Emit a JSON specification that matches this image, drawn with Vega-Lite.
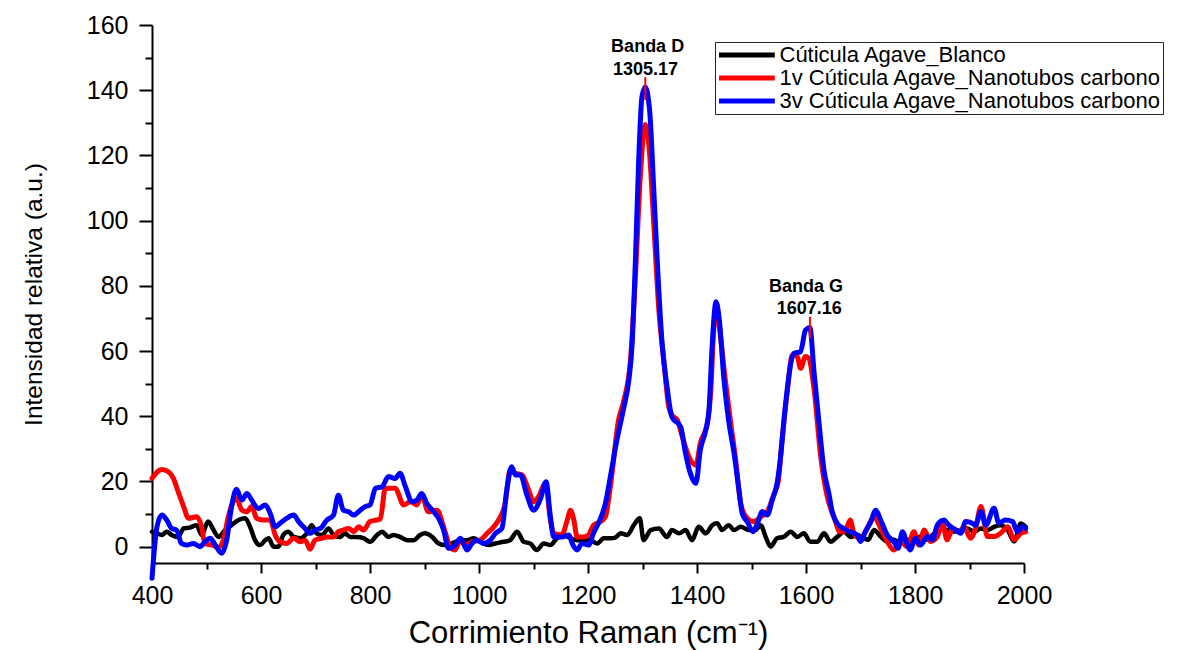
{
  "$schema": "https://vega.github.io/schema/vega-lite/v6.json",
  "width": 872,
  "height": 538,
  "autosize": "none",
  "padding": {"left": 152, "top": 25, "right": 157, "bottom": 87},
  "background": "white",
  "config": {
    "view": {"stroke": null},
    "font": "Liberation Sans",
    "axis": {
      "grid": false,
      "domainColor": "black",
      "tickColor": "black",
      "labelColor": "black",
      "titleColor": "black",
      "labelFont": "Liberation Sans",
      "titleFont": "Liberation Sans",
      "titleFontWeight": "normal",
      "labelFlush": false,
      "labelOverlap": false
    }
  },
  "datasets": {
    "blanco": [
      {"x": 400, "y": 4.6}, {"x": 409, "y": 4.1}, {"x": 418, "y": 3.6}, {"x": 427, "y": 4.6}, {"x": 436, "y": 3.6},
      {"x": 448, "y": 3.0}, {"x": 458, "y": 5.6}, {"x": 470, "y": 5.9}, {"x": 482, "y": 6.6}, {"x": 491, "y": 3.6},
      {"x": 503, "y": 7.7}, {"x": 513, "y": 5.1}, {"x": 522, "y": 3.0}, {"x": 534, "y": 5.1}, {"x": 546, "y": 6.6},
      {"x": 559, "y": 8.2}, {"x": 571, "y": 8.7}, {"x": 580, "y": 6.1}, {"x": 589, "y": 2.0}, {"x": 598, "y": 0.5},
      {"x": 608, "y": 2.0}, {"x": 614, "y": 2.6}, {"x": 623, "y": 0.0}, {"x": 632, "y": 0.0}, {"x": 641, "y": 3.6},
      {"x": 650, "y": 4.6}, {"x": 660, "y": 3.0}, {"x": 672, "y": 2.6}, {"x": 684, "y": 4.1}, {"x": 693, "y": 6.6},
      {"x": 702, "y": 4.1}, {"x": 712, "y": 3.6}, {"x": 724, "y": 5.6}, {"x": 733, "y": 3.6}, {"x": 745, "y": 3.0},
      {"x": 754, "y": 4.1}, {"x": 764, "y": 3.0}, {"x": 776, "y": 3.0}, {"x": 788, "y": 2.6}, {"x": 800, "y": 1.5},
      {"x": 813, "y": 3.6}, {"x": 822, "y": 4.6}, {"x": 834, "y": 3.0}, {"x": 843, "y": 3.6}, {"x": 855, "y": 3.0},
      {"x": 868, "y": 2.0}, {"x": 880, "y": 2.0}, {"x": 892, "y": 3.6}, {"x": 901, "y": 4.1}, {"x": 914, "y": 3.0},
      {"x": 926, "y": 1.0}, {"x": 938, "y": 0.5}, {"x": 950, "y": 1.0}, {"x": 966, "y": 2.0}, {"x": 978, "y": 2.0},
      {"x": 990, "y": 2.6}, {"x": 1002, "y": 1.5}, {"x": 1018, "y": 0.5}, {"x": 1030, "y": 1.0}, {"x": 1045, "y": 1.5},
      {"x": 1057, "y": 2.0}, {"x": 1070, "y": 4.6}, {"x": 1082, "y": 1.5}, {"x": 1094, "y": 1.0}, {"x": 1106, "y": -1.0},
      {"x": 1119, "y": 1.0}, {"x": 1131, "y": 0.5}, {"x": 1143, "y": 2.6}, {"x": 1155, "y": 3.6}, {"x": 1168, "y": 2.6},
      {"x": 1180, "y": 2.0}, {"x": 1192, "y": 2.0}, {"x": 1204, "y": 2.0}, {"x": 1217, "y": 1.0}, {"x": 1229, "y": 2.6},
      {"x": 1241, "y": 2.6}, {"x": 1250, "y": 2.8}, {"x": 1260, "y": 4.1}, {"x": 1272, "y": 3.6}, {"x": 1284, "y": 6.6},
      {"x": 1295, "y": 8.7}, {"x": 1302, "y": 2.0}, {"x": 1315, "y": 5.1}, {"x": 1330, "y": 5.6}, {"x": 1345, "y": 3.0},
      {"x": 1354, "y": 5.1}, {"x": 1367, "y": 4.1}, {"x": 1379, "y": 5.1}, {"x": 1391, "y": 2.0}, {"x": 1403, "y": 6.1},
      {"x": 1416, "y": 4.1}, {"x": 1428, "y": 6.6}, {"x": 1437, "y": 7.2}, {"x": 1446, "y": 5.1}, {"x": 1458, "y": 6.6},
      {"x": 1468, "y": 5.1}, {"x": 1480, "y": 6.1}, {"x": 1495, "y": 5.1}, {"x": 1507, "y": 5.1}, {"x": 1517, "y": 6.6},
      {"x": 1526, "y": 3.0}, {"x": 1535, "y": 0.0}, {"x": 1547, "y": 2.6}, {"x": 1559, "y": 3.0}, {"x": 1572, "y": 4.6},
      {"x": 1584, "y": 3.0}, {"x": 1596, "y": 4.1}, {"x": 1608, "y": 1.5}, {"x": 1621, "y": 1.5}, {"x": 1633, "y": 4.1},
      {"x": 1645, "y": 1.5}, {"x": 1657, "y": 3.0}, {"x": 1670, "y": 4.6}, {"x": 1682, "y": 3.0}, {"x": 1694, "y": 3.6},
      {"x": 1706, "y": 2.6}, {"x": 1714, "y": 2.1}, {"x": 1725, "y": 5.1}, {"x": 1737, "y": 3.1}, {"x": 1749, "y": 1.6},
      {"x": 1761, "y": 2.1}, {"x": 1774, "y": 1.0}, {"x": 1786, "y": 2.1}, {"x": 1798, "y": 1.6}, {"x": 1810, "y": 3.1},
      {"x": 1823, "y": 2.1}, {"x": 1835, "y": 4.1}, {"x": 1847, "y": 5.6}, {"x": 1859, "y": 5.1}, {"x": 1872, "y": 4.6},
      {"x": 1884, "y": 5.1}, {"x": 1896, "y": 5.6}, {"x": 1908, "y": 4.6}, {"x": 1921, "y": 5.6}, {"x": 1933, "y": 5.1},
      {"x": 1945, "y": 6.1}, {"x": 1957, "y": 6.6}, {"x": 1970, "y": 5.1}, {"x": 1982, "y": 1.6}, {"x": 1994, "y": 7.1},
      {"x": 2003, "y": 6.1}
    ],
    "v1": [
      {"x": 400, "y": 21.0}, {"x": 418, "y": 23.7}, {"x": 430, "y": 23.0}, {"x": 439, "y": 21.0}, {"x": 448, "y": 16.9},
      {"x": 458, "y": 12.3}, {"x": 467, "y": 8.7}, {"x": 482, "y": 9.2}, {"x": 491, "y": 6.1}, {"x": 497, "y": 1.0},
      {"x": 510, "y": 0.5}, {"x": 522, "y": -0.2}, {"x": 531, "y": 2.0}, {"x": 540, "y": 9.2}, {"x": 549, "y": 13.8},
      {"x": 555, "y": 14.8}, {"x": 565, "y": 11.2}, {"x": 574, "y": 10.7}, {"x": 583, "y": 12.3}, {"x": 592, "y": 8.7},
      {"x": 604, "y": 8.2}, {"x": 617, "y": 8.2}, {"x": 626, "y": 3.6}, {"x": 635, "y": 1.5}, {"x": 647, "y": 1.0},
      {"x": 660, "y": 2.6}, {"x": 672, "y": 1.5}, {"x": 681, "y": 2.0}, {"x": 690, "y": -0.8}, {"x": 699, "y": 2.0},
      {"x": 712, "y": 2.6}, {"x": 721, "y": 3.0}, {"x": 733, "y": 3.0}, {"x": 742, "y": 4.6}, {"x": 751, "y": 5.1},
      {"x": 761, "y": 5.6}, {"x": 770, "y": 4.6}, {"x": 779, "y": 6.1}, {"x": 788, "y": 5.1}, {"x": 800, "y": 7.7},
      {"x": 812, "y": 8.2}, {"x": 819, "y": 8.5}, {"x": 828, "y": 17.9}, {"x": 846, "y": 17.9}, {"x": 862, "y": 12.8},
      {"x": 874, "y": 13.8}, {"x": 886, "y": 12.8}, {"x": 895, "y": 15.8}, {"x": 907, "y": 10.7}, {"x": 923, "y": 11.2},
      {"x": 935, "y": 6.1}, {"x": 947, "y": 0.0}, {"x": 956, "y": -1.0}, {"x": 966, "y": 2.0}, {"x": 975, "y": 0.5},
      {"x": 987, "y": 1.5}, {"x": 1002, "y": 2.0}, {"x": 1015, "y": 4.1}, {"x": 1027, "y": 6.1}, {"x": 1036, "y": 8.2},
      {"x": 1048, "y": 13.3}, {"x": 1057, "y": 23.5}, {"x": 1067, "y": 22.5}, {"x": 1079, "y": 22.0}, {"x": 1091, "y": 17.4},
      {"x": 1100, "y": 13.8}, {"x": 1109, "y": 15.3}, {"x": 1122, "y": 19.4}, {"x": 1131, "y": 8.2}, {"x": 1137, "y": 4.1},
      {"x": 1152, "y": 3.6}, {"x": 1162, "y": 8.2}, {"x": 1168, "y": 11.2}, {"x": 1174, "y": 8.2}, {"x": 1180, "y": 3.0},
      {"x": 1192, "y": 3.0}, {"x": 1201, "y": 3.6}, {"x": 1210, "y": 6.6}, {"x": 1223, "y": 7.7}, {"x": 1232, "y": 9.2},
      {"x": 1241, "y": 18.4}, {"x": 1256, "y": 38.8}, {"x": 1266, "y": 45.0}, {"x": 1278, "y": 57.3}, {"x": 1287, "y": 82.8},
      {"x": 1296, "y": 113.5}, {"x": 1305, "y": 129.5}, {"x": 1312, "y": 122.6}, {"x": 1321, "y": 98.1}, {"x": 1330, "y": 72.5},
      {"x": 1339, "y": 57.3}, {"x": 1348, "y": 43.0}, {"x": 1354, "y": 40.4}, {"x": 1364, "y": 38.8}, {"x": 1373, "y": 33.7},
      {"x": 1388, "y": 26.6}, {"x": 1398, "y": 25.0}, {"x": 1406, "y": 31.7}, {"x": 1419, "y": 37.8}, {"x": 1425, "y": 47.0},
      {"x": 1431, "y": 67.4}, {"x": 1435, "y": 73.6}, {"x": 1441, "y": 67.4}, {"x": 1452, "y": 51.1}, {"x": 1462, "y": 37.8},
      {"x": 1471, "y": 26.6}, {"x": 1480, "y": 13.3}, {"x": 1492, "y": 8.7}, {"x": 1504, "y": 7.7}, {"x": 1517, "y": 9.2},
      {"x": 1529, "y": 10.8}, {"x": 1541, "y": 16.0}, {"x": 1549, "y": 20.0}, {"x": 1556, "y": 32.7}, {"x": 1566, "y": 48.0},
      {"x": 1575, "y": 58.8}, {"x": 1584, "y": 58.3}, {"x": 1590, "y": 54.7}, {"x": 1599, "y": 58.3}, {"x": 1605, "y": 57.8},
      {"x": 1615, "y": 48.0}, {"x": 1627, "y": 27.6}, {"x": 1639, "y": 15.3}, {"x": 1651, "y": 9.2}, {"x": 1663, "y": 4.5},
      {"x": 1673, "y": 5.1}, {"x": 1681, "y": 8.2}, {"x": 1688, "y": 4.1}, {"x": 1700, "y": 2.5}, {"x": 1712, "y": 5.6},
      {"x": 1725, "y": 9.2}, {"x": 1737, "y": 5.6}, {"x": 1749, "y": 1.6}, {"x": 1761, "y": -1.0}, {"x": 1774, "y": 1.6},
      {"x": 1786, "y": 0.0}, {"x": 1798, "y": 4.6}, {"x": 1807, "y": 0.5}, {"x": 1817, "y": 5.1}, {"x": 1828, "y": 1.6},
      {"x": 1841, "y": 3.1}, {"x": 1850, "y": 7.2}, {"x": 1859, "y": 2.1}, {"x": 1869, "y": 5.6}, {"x": 1881, "y": 4.6},
      {"x": 1890, "y": 6.1}, {"x": 1902, "y": 2.6}, {"x": 1911, "y": 5.6}, {"x": 1921, "y": 12.3}, {"x": 1933, "y": 3.1},
      {"x": 1945, "y": 3.1}, {"x": 1957, "y": 4.1}, {"x": 1970, "y": 6.1}, {"x": 1982, "y": 2.1}, {"x": 1994, "y": 4.1},
      {"x": 2003, "y": 4.6}
    ],
    "v3": [
      {"x": 400, "y": -9.7}, {"x": 409, "y": 6.0}, {"x": 418, "y": 9.7}, {"x": 427, "y": 8.2}, {"x": 436, "y": 5.6},
      {"x": 445, "y": 5.1}, {"x": 454, "y": 1.0}, {"x": 464, "y": 0.5}, {"x": 476, "y": 1.0}, {"x": 488, "y": 0.0},
      {"x": 497, "y": 1.5}, {"x": 507, "y": 2.6}, {"x": 516, "y": 0.5}, {"x": 528, "y": -2.0}, {"x": 537, "y": 2.0},
      {"x": 546, "y": 12.3}, {"x": 555, "y": 17.6}, {"x": 565, "y": 14.3}, {"x": 574, "y": 16.3}, {"x": 583, "y": 14.3},
      {"x": 595, "y": 11.7}, {"x": 608, "y": 12.8}, {"x": 617, "y": 10.2}, {"x": 626, "y": 6.1}, {"x": 635, "y": 7.2},
      {"x": 647, "y": 8.7}, {"x": 660, "y": 9.7}, {"x": 669, "y": 7.7}, {"x": 681, "y": 5.6}, {"x": 690, "y": 4.1},
      {"x": 699, "y": 5.1}, {"x": 709, "y": 5.6}, {"x": 721, "y": 8.2}, {"x": 733, "y": 9.7}, {"x": 742, "y": 15.8},
      {"x": 751, "y": 11.2}, {"x": 761, "y": 10.7}, {"x": 770, "y": 9.7}, {"x": 782, "y": 11.2}, {"x": 791, "y": 12.3},
      {"x": 800, "y": 12.8}, {"x": 810, "y": 17.9}, {"x": 822, "y": 18.4}, {"x": 834, "y": 21.5}, {"x": 846, "y": 20.9},
      {"x": 855, "y": 22.5}, {"x": 865, "y": 18.4}, {"x": 877, "y": 13.8}, {"x": 886, "y": 14.3}, {"x": 895, "y": 16.3},
      {"x": 904, "y": 13.3}, {"x": 917, "y": 10.7}, {"x": 926, "y": 8.7}, {"x": 935, "y": 5.1}, {"x": 944, "y": -0.5},
      {"x": 956, "y": 0.5}, {"x": 966, "y": 2.6}, {"x": 978, "y": -1.0}, {"x": 987, "y": 1.0}, {"x": 996, "y": 2.0},
      {"x": 1008, "y": 1.0}, {"x": 1021, "y": 2.0}, {"x": 1030, "y": 4.1}, {"x": 1042, "y": 5.6}, {"x": 1051, "y": 17.4},
      {"x": 1060, "y": 24.5}, {"x": 1067, "y": 22.0}, {"x": 1076, "y": 22.0}, {"x": 1088, "y": 15.8}, {"x": 1100, "y": 11.2},
      {"x": 1113, "y": 14.8}, {"x": 1123, "y": 19.9}, {"x": 1131, "y": 9.2}, {"x": 1137, "y": 3.0}, {"x": 1152, "y": 3.0},
      {"x": 1165, "y": 3.6}, {"x": 1171, "y": 1.0}, {"x": 1180, "y": -1.0}, {"x": 1189, "y": 1.0}, {"x": 1201, "y": 0.5},
      {"x": 1210, "y": 4.1}, {"x": 1223, "y": 8.7}, {"x": 1232, "y": 13.3}, {"x": 1241, "y": 21.4}, {"x": 1253, "y": 32.7},
      {"x": 1266, "y": 42.9}, {"x": 1275, "y": 51.1}, {"x": 1281, "y": 62.3}, {"x": 1287, "y": 87.9}, {"x": 1293, "y": 118.6},
      {"x": 1299, "y": 138.0}, {"x": 1305, "y": 141.0}, {"x": 1313, "y": 133.9}, {"x": 1321, "y": 108.3}, {"x": 1327, "y": 87.9},
      {"x": 1336, "y": 62.3}, {"x": 1345, "y": 49.0}, {"x": 1354, "y": 39.8}, {"x": 1370, "y": 36.8}, {"x": 1379, "y": 28.6},
      {"x": 1388, "y": 22.4}, {"x": 1398, "y": 19.4}, {"x": 1406, "y": 29.6}, {"x": 1416, "y": 35.7}, {"x": 1422, "y": 41.9},
      {"x": 1428, "y": 62.3}, {"x": 1435, "y": 75.1}, {"x": 1441, "y": 69.5}, {"x": 1449, "y": 52.1}, {"x": 1458, "y": 38.8},
      {"x": 1468, "y": 28.6}, {"x": 1477, "y": 17.4}, {"x": 1483, "y": 10.2}, {"x": 1492, "y": 7.7}, {"x": 1503, "y": 4.6},
      {"x": 1511, "y": 7.2}, {"x": 1520, "y": 10.8}, {"x": 1529, "y": 9.7}, {"x": 1538, "y": 14.3}, {"x": 1547, "y": 19.5},
      {"x": 1553, "y": 27.0}, {"x": 1562, "y": 42.9}, {"x": 1572, "y": 56.2}, {"x": 1578, "y": 59.3}, {"x": 1590, "y": 59.8},
      {"x": 1599, "y": 66.4}, {"x": 1607, "y": 67.2}, {"x": 1615, "y": 53.1}, {"x": 1624, "y": 37.8}, {"x": 1633, "y": 23.5},
      {"x": 1642, "y": 16.3}, {"x": 1648, "y": 10.8}, {"x": 1657, "y": 7.2}, {"x": 1670, "y": 5.5}, {"x": 1682, "y": 4.5},
      {"x": 1694, "y": 3.6}, {"x": 1700, "y": 1.6}, {"x": 1709, "y": 4.6}, {"x": 1719, "y": 7.7}, {"x": 1728, "y": 11.2},
      {"x": 1737, "y": 8.2}, {"x": 1749, "y": 3.6}, {"x": 1761, "y": 1.6}, {"x": 1769, "y": -0.5}, {"x": 1777, "y": 4.6},
      {"x": 1785, "y": 1.0}, {"x": 1791, "y": -1.0}, {"x": 1801, "y": 2.6}, {"x": 1810, "y": 0.5}, {"x": 1823, "y": 3.1},
      {"x": 1832, "y": 2.1}, {"x": 1841, "y": 6.6}, {"x": 1853, "y": 8.2}, {"x": 1862, "y": 6.6}, {"x": 1875, "y": 5.1},
      {"x": 1884, "y": 4.1}, {"x": 1893, "y": 7.7}, {"x": 1905, "y": 7.2}, {"x": 1911, "y": 6.6}, {"x": 1921, "y": 10.7},
      {"x": 1930, "y": 6.6}, {"x": 1945, "y": 11.8}, {"x": 1954, "y": 7.2}, {"x": 1966, "y": 8.2}, {"x": 1979, "y": 7.7},
      {"x": 1988, "y": 4.6}, {"x": 1997, "y": 6.1}, {"x": 2003, "y": 5.6}
    ],
    "picos": [
      {"x": 1305.17, "y": 137, "y2": 144},
      {"x": 1607.16, "y": 64, "y2": 70.5}
    ],
    "etiquetas": [
      {"texto": "Banda D", "x": 1309.4, "y": 151.7},
      {"texto": "1305.17", "x": 1305.4, "y": 144.6},
      {"texto": "Banda G", "x": 1600, "y": 78.2},
      {"texto": "1607.16", "x": 1606, "y": 71.3}
    ]
  },
  "resolve": {"axis": {"x": "independent", "y": "independent"}},
  "layer": [
    {
      "data": {"name": "blanco"},
      "mark": {"type": "line", "strokeWidth": 4.5, "interpolate": "monotone", "strokeJoin": "round", "strokeCap": "round"},
      "encoding": {
        "x": {
          "field": "x", "type": "quantitative",
          "scale": {"domain": [400, 2000], "nice": false, "zero": false},
          "axis": {
            "orient": "bottom",
            "values": [400, 600, 800, 1000, 1200, 1400, 1600, 1800, 2000],
            "format": "d",
            "tickSize": 10, "tickWidth": 2, "domainWidth": 2,
            "labelFontSize": 25, "labelPadding": 10,
            "title": "Corrimiento Raman (cm⁻¹)", "titleFontSize": 31, "titlePadding": 10
          }
        },
        "y": {
          "field": "y", "type": "quantitative",
          "scale": {"domain": [-5, 160], "nice": false, "zero": false},
          "axis": {
            "orient": "left",
            "values": [0, 20, 40, 60, 80, 100, 120, 140, 160],
            "format": "d",
            "tickSize": 13, "tickWidth": 2, "domainWidth": 2,
            "labelFontSize": 25, "labelPadding": 11,
            "title": "Intensidad relativa (a.u.)", "titleFontSize": 24.5, "titlePadding": 40
          }
        },
        "color": {
          "datum": "Cúticula Agave_Blanco", "type": "nominal",
          "scale": {
            "domain": ["Cúticula Agave_Blanco", "1v Cúticula Agave_Nanotubos carbono", "3v Cúticula Agave_Nanotubos carbono"],
            "range": ["black", "#ff0000", "#0000ff"]
          },
          "legend": {
            "orient": "none", "legendX": 563, "legendY": 17, "direction": "vertical",
            "title": null, "symbolType": "M-1,0H5.2", "symbolSize": 324, "symbolStrokeWidth": 5,
            "labelFont": "Liberation Sans", "labelFontSize": 22, "labelColor": "black", "labelLimit": 0,
            "labelOffset": 40, "rowPadding": -2.5, "padding": 1.5,
            "strokeColor": "#222", "fillColor": "white"
          }
        }
      }
    },
    {
      "data": {"name": "v1"},
      "mark": {"type": "line", "strokeWidth": 5, "interpolate": "monotone", "strokeJoin": "round", "strokeCap": "round"},
      "encoding": {
        "x": {"field": "x", "type": "quantitative", "axis": null},
        "y": {"field": "y", "type": "quantitative", "axis": null},
        "color": {"datum": "1v Cúticula Agave_Nanotubos carbono", "type": "nominal"}
      }
    },
    {
      "data": {"name": "v3"},
      "mark": {"type": "line", "strokeWidth": 5, "interpolate": "monotone", "strokeJoin": "round", "strokeCap": "round"},
      "encoding": {
        "x": {"field": "x", "type": "quantitative", "axis": null},
        "y": {"field": "y", "type": "quantitative", "axis": null},
        "color": {"datum": "3v Cúticula Agave_Nanotubos carbono", "type": "nominal"}
      }
    },
    {
      "data": {"name": "picos"},
      "mark": {"type": "rule", "color": "#ff0000", "strokeWidth": 2},
      "encoding": {
        "x": {
          "field": "x", "type": "quantitative",
          "axis": {
            "orient": "bottom", "values": [500, 700, 900, 1100, 1300, 1500, 1700, 1900],
            "tickSize": 6, "tickWidth": 2, "labels": false, "domain": false, "title": null
          }
        },
        "y": {
          "field": "y", "type": "quantitative",
          "axis": {
            "orient": "left", "values": [10, 30, 50, 70, 90, 110, 130, 150],
            "tickSize": 7, "tickWidth": 2, "labels": false, "domain": false, "title": null
          }
        },
        "y2": {"field": "y2"}
      }
    },
    {
      "data": {"name": "etiquetas"},
      "mark": {"type": "text", "font": "Liberation Sans", "fontWeight": "bold", "fontSize": 18, "color": "black", "align": "center", "baseline": "alphabetic"},
      "encoding": {
        "x": {"field": "x", "type": "quantitative", "axis": null},
        "y": {"field": "y", "type": "quantitative", "axis": null},
        "text": {"field": "texto"}
      }
    }
  ]
}
